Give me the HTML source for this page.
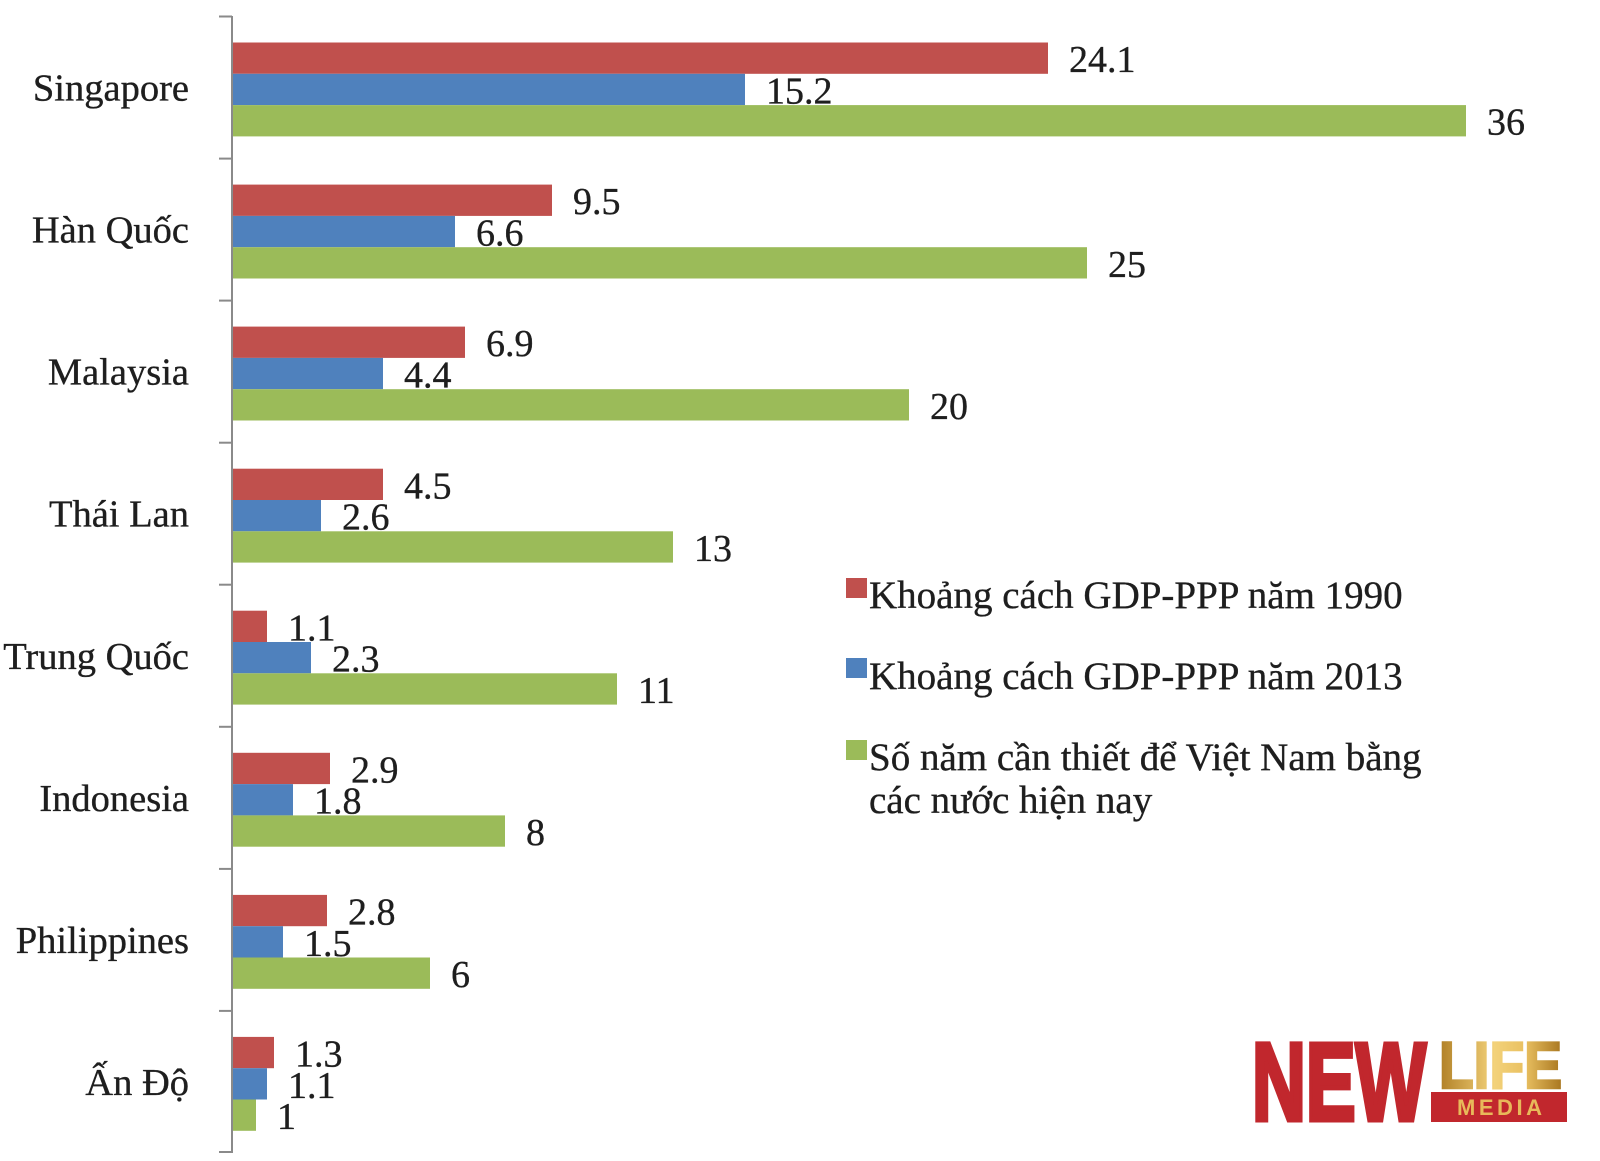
<!DOCTYPE html>
<html>
<head>
<meta charset="utf-8">
<style>
  html,body{margin:0;padding:0;background:#fff;}
  svg{display:block;}
  .cat{font-family:"Liberation Serif",serif;font-size:38.5px;fill:#1e1e1e;stroke:#1e1e1e;stroke-width:0.35px;}
  .val{font-family:"Liberation Serif",serif;font-size:38px;fill:#1e1e1e;stroke:#1e1e1e;stroke-width:0.35px;}
  .leg{font-family:"Liberation Serif",serif;font-size:39px;fill:#1e1e1e;stroke:#1e1e1e;stroke-width:0.35px;}
</style>
</head>
<body>
<svg width="1600" height="1161" viewBox="0 0 1600 1161" xmlns="http://www.w3.org/2000/svg">
  <defs>
    <linearGradient id="gold" x1="0" y1="0" x2="1" y2="0">
      <stop offset="0" stop-color="#b07f25"/>
      <stop offset="0.45" stop-color="#f3d27a"/>
      <stop offset="0.7" stop-color="#e9c061"/>
      <stop offset="1" stop-color="#a8761f"/>
    </linearGradient>
  </defs>
  <rect width="1600" height="1161" fill="#fff"/>

  <!-- axis -->
  <line x1="232" y1="16" x2="232" y2="1153" stroke="#8a8a8a" stroke-width="2"/>
  <g stroke="#8a8a8a" stroke-width="2">
    <line x1="219" y1="16.5" x2="232" y2="16.5"/>
    <line x1="219" y1="158.6" x2="232" y2="158.6"/>
    <line x1="219" y1="300.6" x2="232" y2="300.6"/>
    <line x1="219" y1="442.7" x2="232" y2="442.7"/>
    <line x1="219" y1="584.7" x2="232" y2="584.7"/>
    <line x1="219" y1="726.8" x2="232" y2="726.8"/>
    <line x1="219" y1="868.9" x2="232" y2="868.9"/>
    <line x1="219" y1="1010.9" x2="232" y2="1010.9"/>
    <line x1="219" y1="1152" x2="232" y2="1152"/>
  </g>

  <!-- Row 0 Singapore -->
  <rect x="233" y="42.5" width="815" height="31.3" fill="#c0504d"/>
  <rect x="233" y="73.8" width="512" height="31.3" fill="#4f81bd"/>
  <rect x="233" y="105.1" width="1233" height="31.3" fill="#9bbb59"/>
  <!-- Row 1 Hàn Quốc -->
  <rect x="233" y="184.6" width="319" height="31.3" fill="#c0504d"/>
  <rect x="233" y="215.9" width="222" height="31.3" fill="#4f81bd"/>
  <rect x="233" y="247.2" width="854" height="31.3" fill="#9bbb59"/>
  <!-- Row 2 Malaysia -->
  <rect x="233" y="326.6" width="232" height="31.3" fill="#c0504d"/>
  <rect x="233" y="357.9" width="150" height="31.3" fill="#4f81bd"/>
  <rect x="233" y="389.2" width="676" height="31.3" fill="#9bbb59"/>
  <!-- Row 3 Thái Lan -->
  <rect x="233" y="468.7" width="150" height="31.3" fill="#c0504d"/>
  <rect x="233" y="500" width="88" height="31.3" fill="#4f81bd"/>
  <rect x="233" y="531.3" width="440" height="31.3" fill="#9bbb59"/>
  <!-- Row 4 Trung Quốc -->
  <rect x="233" y="610.7" width="34" height="31.3" fill="#c0504d"/>
  <rect x="233" y="642" width="78" height="31.3" fill="#4f81bd"/>
  <rect x="233" y="673.3" width="384" height="31.3" fill="#9bbb59"/>
  <!-- Row 5 Indonesia -->
  <rect x="233" y="752.8" width="97" height="31.3" fill="#c0504d"/>
  <rect x="233" y="784.1" width="60" height="31.3" fill="#4f81bd"/>
  <rect x="233" y="815.4" width="272" height="31.3" fill="#9bbb59"/>
  <!-- Row 6 Philippines -->
  <rect x="233" y="894.9" width="94" height="31.3" fill="#c0504d"/>
  <rect x="233" y="926.2" width="50" height="31.3" fill="#4f81bd"/>
  <rect x="233" y="957.5" width="197" height="31.3" fill="#9bbb59"/>
  <!-- Row 7 Ấn Độ -->
  <rect x="233" y="1036.9" width="41" height="31.3" fill="#c0504d"/>
  <rect x="233" y="1068.2" width="34" height="31.3" fill="#4f81bd"/>
  <rect x="233" y="1099.5" width="23" height="31.3" fill="#9bbb59"/>

  <!-- value labels -->
  <g class="val">
    <text x="1069" y="72">24.1</text>
    <text x="766" y="103.5">15.2</text>
    <text x="1487" y="134.7">36</text>

    <text x="573" y="214.2">9.5</text>
    <text x="476" y="245.5">6.6</text>
    <text x="1108" y="276.8">25</text>

    <text x="486" y="356.2">6.9</text>
    <text x="404" y="387.5">4.4</text>
    <text x="930" y="418.8">20</text>

    <text x="404" y="498.3">4.5</text>
    <text x="342" y="529.6">2.6</text>
    <text x="694" y="560.9">13</text>

    <text x="288" y="640.3">1.1</text>
    <text x="332" y="671.6">2.3</text>
    <text x="638" y="702.9">11</text>

    <text x="351" y="782.4">2.9</text>
    <text x="314" y="813.7">1.8</text>
    <text x="526" y="845">8</text>

    <text x="348" y="924.5">2.8</text>
    <text x="304" y="955.8">1.5</text>
    <text x="451" y="987.1">6</text>

    <text x="295" y="1066.5">1.3</text>
    <text x="288" y="1097.8">1.1</text>
    <text x="277" y="1129.1">1</text>
  </g>

  <!-- category labels -->
  <g class="cat" text-anchor="end">
    <text x="189" y="100.5">Singapore</text>
    <text x="189" y="242.6">Hàn Quốc</text>
    <text x="189" y="384.6">Malaysia</text>
    <text x="189" y="526.7">Thái Lan</text>
    <text x="189" y="669">Trung Quốc</text>
    <text x="189" y="810.8">Indonesia</text>
    <text x="189" y="952.9">Philippines</text>
    <text x="189" y="1094.9">Ấn Độ</text>
  </g>

  <!-- legend -->
  <rect x="846" y="578" width="21" height="20" fill="#c0504d"/>
  <rect x="846" y="658" width="21" height="20" fill="#4f81bd"/>
  <rect x="846" y="740" width="21" height="20" fill="#9bbb59"/>
  <g class="leg">
    <text x="869" y="608">Khoảng cách GDP-PPP năm 1990</text>
    <text x="869" y="689">Khoảng cách GDP-PPP năm 2013</text>
    <text x="869" y="770">Số năm cần thiết để Việt Nam bằng</text>
    <text x="869" y="813">các nước hiện nay</text>
  </g>

  <!-- logo -->
  <text x="1252" y="1120" font-family="Liberation Sans Narrow, Liberation Sans, sans-serif" font-weight="bold" font-size="110" fill="#c1272d" stroke="#c1272d" stroke-width="5" stroke-linejoin="miter" textLength="174" lengthAdjust="spacingAndGlyphs">NEW</text>
  <text x="1439" y="1088" font-family="Liberation Sans Narrow, Liberation Sans, sans-serif" font-weight="bold" font-size="66" fill="url(#gold)" stroke="url(#gold)" stroke-width="2.5" textLength="123" lengthAdjust="spacingAndGlyphs">LIFE</text>
  <rect x="1431" y="1092" width="136" height="30" fill="#c1272d"/>
  <text x="1457" y="1115" font-family="Liberation Sans Narrow, Liberation Sans, sans-serif" font-weight="bold" font-size="22" fill="#e8b95a" textLength="85" lengthAdjust="spacing">MEDIA</text>
</svg>
</body>
</html>
